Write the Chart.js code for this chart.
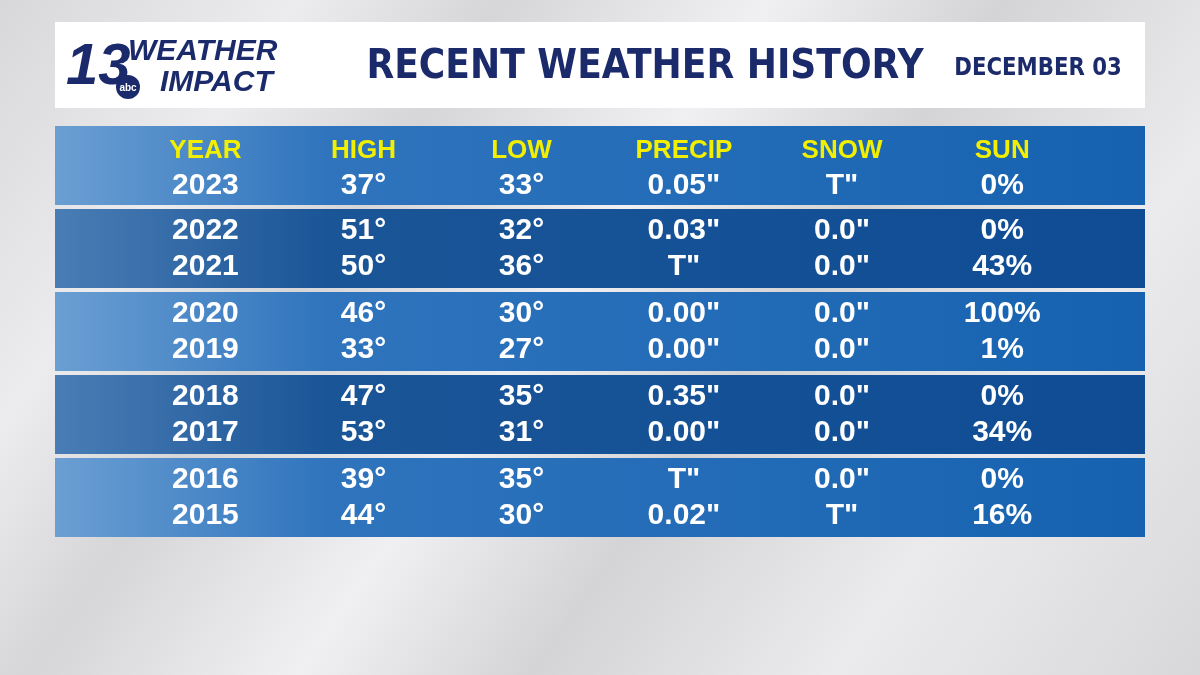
<!DOCTYPE html>
<html><head><meta charset="utf-8">
<script src="https://cdn.jsdelivr.net/npm/chart.js@4"></script>
<style>
html,body{margin:0;padding:0;width:1200px;height:675px;overflow:hidden;
background:linear-gradient(125deg,#d8d8da 0%,#ececee 18%,#d6d6d8 30%,#f0f0f2 46%,#d4d4d6 60%,#ebebed 78%,#d8d8da 100%);}
canvas{position:absolute;left:0;top:0}
</style></head><body>
<canvas id="c" width="1200" height="675"></canvas>
<script>
const columns = ["YEAR", "HIGH", "LOW", "PRECIP", "SNOW", "SUN"];
const years = ["2023", "2022", "2021", "2020", "2019", "2018", "2017", "2016", "2015"];
const highs = ["37°", "51°", "50°", "46°", "33°", "47°", "53°", "39°", "44°"];
const lows = ["33°", "32°", "36°", "30°", "27°", "35°", "31°", "35°", "30°"];
const precip = ['0.05"', '0.03"', 'T"', '0.00"', '0.00"', '0.35"', '0.00"', 'T"', '0.02"'];
const snow = ['T"', '0.0"', '0.0"', '0.0"', '0.0"', '0.0"', '0.0"', '0.0"', 'T"'];
const sun = ["0%", "0%", "43%", "100%", "1%", "0%", "34%", "0%", "16%"];
const bands = ["b1", "b2", "b3", "b4", "b5"];
const colX = [0.138, 0.283, 0.428, 0.577, 0.722, 0.869];

function bandColor(ctx) {
  const area = ctx.chart.chartArea;
  if (!area) return "#2a6ab5";
  const g = ctx.chart.ctx.createLinearGradient(area.left, 0, area.right, 0);
  if (ctx.dataIndex % 2 === 0) {
    g.addColorStop(0, "#6b9fd3"); g.addColorStop(0.25, "#2f74bd"); g.addColorStop(1, "#1662b0");
  } else {
    g.addColorStop(0, "#4a7db5"); g.addColorStop(0.25, "#1a5597"); g.addColorStop(1, "#0f4c94");
  }
  return g;
}

const tableText = {
  id: "tableText",
  beforeDraw(chart) {
    const c = chart.ctx;
    c.save();
    c.fillStyle = "#ffffff";
    c.fillRect(55, 22, 1090, 86);
    c.fillStyle = "#1b2a6b";
    c.textBaseline = "middle";
    c.textAlign = "center";
    c.font = "bold 41px 'DejaVu Sans', Arial";
    c.save(); c.translate(645, 67); c.scale(0.88, 1);
    c.fillText("RECENT WEATHER HISTORY", 0, 0); c.restore();
    c.font = "bold 25px 'DejaVu Sans', Arial";
    c.save(); c.translate(1038, 68); c.scale(0.85, 1);
    c.fillText("DECEMBER 03", 0, 0); c.restore();
    c.textAlign = "left";
    c.font = "italic bold 58px 'Liberation Sans', Arial";
    c.fillText("13", 66, 68);
    c.font = "italic bold 30px 'Liberation Sans', Arial";
    c.fillText("WEATHER", 128, 52);
    c.fillText("IMPACT", 160, 83);
    c.beginPath(); c.arc(128, 87, 12, 0, Math.PI * 2); c.fill();
    c.fillStyle = "#fff"; c.font = "bold 10px 'Liberation Sans', Arial"; c.textAlign = "center";
    c.fillText("abc", 128, 88);
    c.restore();
  },
  afterDatasetsDraw(chart) {
    const c = chart.ctx, xs = chart.scales.x, ys = chart.scales.y;
    c.save();
    c.textAlign = "center"; c.textBaseline = "middle";
    const rows = [];
    bands.forEach((b, i) => {
      const yc = ys.getPixelForValue(i);
      if (i === 0) {
        rows.push({ y: yc - 15, header: true });
        rows.push({ y: yc + 20, k: 0 });
      } else {
        rows.push({ y: yc - 18, k: 2 * i - 1 });
        rows.push({ y: yc + 18, k: 2 * i });
      }
    });
    rows.forEach(r => {
      let vals;
      if (r.header) {
        vals = columns; c.fillStyle = "#f2f000"; c.font = "bold 26px 'Liberation Sans', Arial";
      } else {
        const k = r.k;
        vals = [years[k], highs[k], lows[k], precip[k], snow[k], sun[k]];
        c.fillStyle = "#ffffff"; c.font = "bold 30px 'Liberation Sans', Arial";
      }
      vals.forEach((v, j) => c.fillText(v, xs.getPixelForValue(colX[j]), r.y));
    });
    c.restore();
  }
};

new Chart(document.getElementById("c"), {
  type: "bar",
  data: {
    labels: bands,
    datasets: [{ data: bands.map(() => [0, 1]), backgroundColor: bandColor, borderWidth: 0,
      barPercentage: 1, categoryPercentage: 0.95 }]
  },
  options: {
    indexAxis: "y",
    responsive: false,
    animation: false,
    layout: { padding: { left: 55, right: 55, top: 124, bottom: 136 } },
    scales: {
      x: { type: "linear", min: 0, max: 1, display: false },
      y: { display: false }
    },
    plugins: { legend: { display: false }, tooltip: { enabled: false } }
  },
  plugins: [tableText]
});
</script>
</body></html>
